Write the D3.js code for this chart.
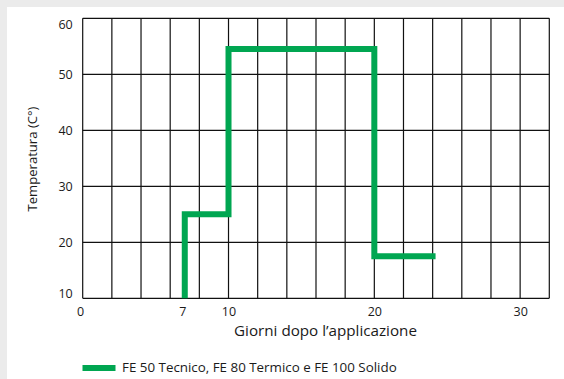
<!DOCTYPE html>
<html>
<head>
<meta charset="utf-8">
<script src="https://cdn.jsdelivr.net/npm/d3@7"></script>
<style>
  html, body { margin: 0; padding: 0; background: #ebebeb; }
  svg { display: block; }
  text { font-family: "Open Sans", "Noto Sans", sans-serif; fill: #1a1a1a; }
</style>
</head>
<body>
<svg id="chart" width="564" height="379"></svg>
<script>
// ---- data ----
const stepDays = [7, 7, 10, 10, 20, 20, 24.2];
const stepTemps = [10, 25, 25, 54.5, 54.5, 17.5, 17.5];
const xTickLabels = [0, 7, 10, 20, 30];
const yTickLabels = [10, 20, 30, 40, 50, 60];
const xGridValues = [0, 2, 4, 6, 8, 10, 12, 14, 16, 18, 20, 22, 24, 26, 28, 30, 32];
const seriesName = "FE 50 Tecnico, FE 80 Termico e FE 100 Solido";
const xTitle = "Giorni dopo l\u2019applicazione";
const yTitle = "Temperatura (C\u00b0)";

const svg = d3.select("#chart");
svg.append("rect").attr("x", 0).attr("y", 0).attr("width", 564).attr("height", 379).attr("fill", "#ebebeb");
svg.append("rect").attr("x", 7).attr("y", 7).attr("width", 557).attr("height", 372).attr("fill", "#ffffff");

const x = d3.scaleLinear().domain([0, 32]).range([82.7, 549.3]);
const y = d3.scaleLinear().domain([10, 60]).range([298.3, 18.3]);

// fit a text element's font size so that it spans a given width
function fitWidth(sel, target) {
  const n = sel.node();
  const fs = parseFloat(sel.style("font-size"));
  const w = n.getComputedTextLength();
  if (w > 0) sel.style("font-size", (fs * target / w).toFixed(2) + "px");
  return sel;
}

const g = svg.append("g");

// grid
g.selectAll("line.vg").data(xGridValues).join("line")
  .attr("class", "vg")
  .attr("x1", d => x(d)).attr("x2", d => x(d))
  .attr("y1", y(10)).attr("y2", y(60))
  .attr("stroke", "#111").attr("stroke-width", 1.2);
g.selectAll("line.hg").data(yTickLabels).join("line")
  .attr("class", "hg")
  .attr("x1", x(0)).attr("x2", x(32))
  .attr("y1", d => y(d)).attr("y2", d => y(d))
  .attr("stroke", "#111").attr("stroke-width", 1.2);

// axes labels
const xAxis = d3.axisBottom(x).tickValues(xTickLabels).tickSize(0).tickPadding(9).tickFormat(d3.format("d"));
const xa = svg.append("g").attr("transform", `translate(0,${y(10)})`).call(xAxis);
xa.select(".domain").remove();
xa.selectAll("text").style("font-size", "12.5px").attr("fill", "#1a1a1a")
  .attr("dx", d => (d === 0 || d === 7) ? -2.5 : 0);

const yAxis = d3.axisLeft(y).tickValues(yTickLabels).tickSize(0).tickPadding(10).tickFormat(d3.format("d"));
const ya = svg.append("g").attr("transform", `translate(${x(0)},0)`).call(yAxis);
ya.select(".domain").remove();
ya.selectAll("text").style("font-size", "12.5px").attr("fill", "#1a1a1a")
  .attr("dy", d => d === 60 ? "0.85em" : d === 10 ? "-0.08em" : "0.32em");

// titles
fitWidth(svg.append("text").attr("x", 325.5).attr("y", 336).attr("text-anchor", "middle")
  .style("font-size", "12.5px").text(xTitle), 183);
fitWidth(svg.append("text").attr("transform", "translate(37,159) rotate(-90)").attr("text-anchor", "middle")
  .style("font-size", "12.5px").text(yTitle), 105);

// line
const pts = stepDays.map((d, i) => [d, stepTemps[i]]);
const line = d3.line().x(d => x(d[0])).y(d => y(d[1]));
svg.append("path").datum(pts).attr("d", line)
  .attr("fill", "none").attr("stroke", "#00a651").attr("stroke-width", 6)
  .attr("stroke-linejoin", "miter").attr("stroke-linecap", "butt");

// legend
svg.append("rect").attr("x", 82.5).attr("y", 365).attr("width", 33).attr("height", 6).attr("fill", "#00a651");
fitWidth(svg.append("text").attr("x", 122).attr("y", 372).style("font-size", "12px").text(seriesName), 275);
</script>
</body>
</html>
